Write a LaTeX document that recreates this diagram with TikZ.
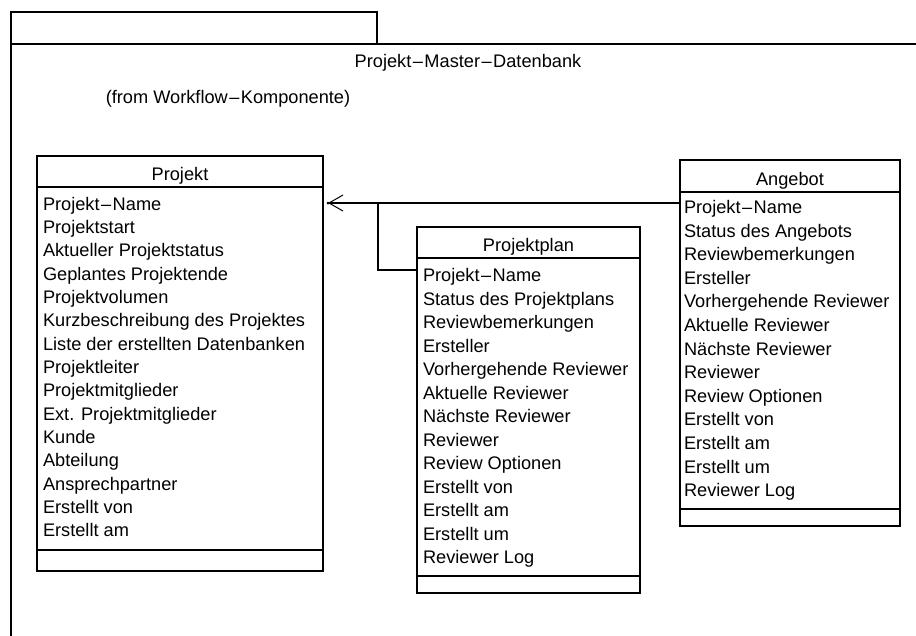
\documentclass[tikz,border=0pt]{standalone}
\usepackage{fontspec}
\setmainfont{Liberation Sans}
\usetikzlibrary{arrows.meta}
% dash used inside compound names, with a little air on both sides
\newcommand\sepdash{\kern1.5pt–\kern1.5pt}
\begin{document}
\begin{tikzpicture}[x=1pt,y=-1pt,
  every node/.style={font=\fontsize{18.2}{22}\selectfont, inner sep=0pt, outer sep=0pt},
  frame/.style={draw, line width=1.3pt},
  classbox/.style={draw, line width=1.3pt, anchor=north west},
  attr/.style={anchor=base west},
  cname/.style={anchor=base},
  link/.style={line width=1.1pt},
  openhead/.style={-{Straight Barb[length=14pt,width=16pt,line width=1pt]}}]
\useasboundingbox (0,0) rectangle (916,635);
\clip (0,0) rectangle (916,635);

% package frame with its tab
\node[classbox, minimum width=366pt, minimum height=32pt] (tab) at (11,12) {};
\node[classbox, minimum width=930pt, minimum height=620pt] (pkg) at (11,44) {};
\node[cname] (pkgname) at (468,67.5) {Projekt\sepdash Master\sepdash Datenbank};
\node[cname] (pkgfrom) at (228,103.3) {(from Workflow\sepdash Komponente)};

% class Projekt
\node[classbox, minimum width=286pt, minimum height=415pt] (projekt) at (37,156) {};
\draw[frame] (37,187) -- (323,187) (37,550) -- (323,550);
\node[cname] (projekt-title) at (180,180.7) {Projekt};
\foreach \t [count=\i] in {Projekt\sepdash Name, Projektstart, Aktueller Projektstatus,
    Geplantes Projektende, Projektvolumen, Kurzbeschreibung des Projektes,
    Liste der erstellten Datenbanken, Projektleiter, Projektmitglieder,
    Ext. Projektmitglieder, Kunde, Abteilung, Ansprechpartner, Erstellt von, Erstellt am}
  \node[attr] (pj-\i) at (43,{210+23.35*(\i-1)}) {\t};

% class Projektplan
\node[classbox, minimum width=223pt, minimum height=366pt] (plan) at (417,227) {};
\draw[frame] (417,258) -- (640,258) (417,576) -- (640,576);
\node[cname] (plan-title) at (528.5,251.7) {Projektplan};
\foreach \t [count=\i] in {Projekt\sepdash Name, Status des Projektplans, Reviewbemerkungen,
    Ersteller, Vorhergehende Reviewer, Aktuelle Reviewer, Nächste Reviewer, Reviewer,
    Review Optionen, Erstellt von, Erstellt am, Erstellt um, Reviewer Log}
  \node[attr] (pp-\i) at (423,{281.5+23.5*(\i-1)}) {\t};

% class Angebot
\node[classbox, minimum width=220pt, minimum height=366pt] (angebot) at (680,160) {};
\draw[frame] (680,192) -- (900,192) (680,509) -- (900,509);
\node[cname] (angebot-title) at (790,185.5) {Angebot};
\foreach \t [count=\i] in {Projekt\sepdash Name, Status des Angebots, Reviewbemerkungen,
    Ersteller, Vorhergehende Reviewer, Aktuelle Reviewer, Nächste Reviewer, Reviewer,
    Review Optionen, Erstellt von, Erstellt am, Erstellt um, Reviewer Log}
  \node[attr] (an-\i) at (684,{213.5+23.6*(\i-1)}) {\t};

% associations towards Projekt
\coordinate (tip) at ([xshift=5pt]projekt.north east |- 0,203);
\coordinate (fork) at (378,203);
\draw[link, openhead] (angebot.west |- tip) -- (tip);
\fill (tip) circle (1.5pt);
\draw[link] (fork) |- (plan.west |- 0,270);
\end{tikzpicture}
\end{document}
